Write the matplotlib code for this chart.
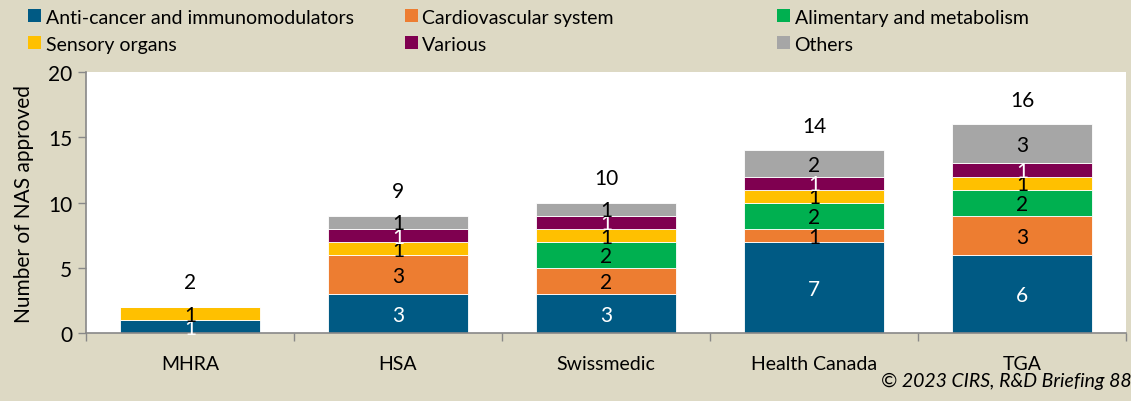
import numpy as np
import matplotlib
matplotlib.use('Agg')
import matplotlib.pyplot as plt
from matplotlib.patches import Patch

plt.rcParams['font.family'] = ['Lato', 'DejaVu Sans']

agencies = ['MHRA', 'HSA', 'Swissmedic', 'Health Canada', 'TGA']
categories = ['Anti-cancer and immunomodulators', 'Cardiovascular system',
              'Alimentary and metabolism', 'Sensory organs', 'Various', 'Others']
anticancer = [1, 3, 3, 7, 6]
cardio = [0, 3, 2, 1, 3]
alimentary = [0, 0, 2, 2, 2]
sensory = [1, 1, 1, 1, 1]
various = [0, 1, 1, 1, 1]
others = [0, 1, 1, 2, 3]
totals = [2, 9, 10, 14, 16]

colors = ['#005a84', '#ed7d31', '#00b050', '#ffc000', '#7f0050', '#a6a6a6']
text_colors = ['white', 'black', 'black', 'black', 'white', 'black']
bg = '#ddd9c4'

series = [anticancer, cardio, alimentary, sensory, various, others]

fig = plt.figure(figsize=(11.31, 4.02), dpi=100, facecolor=bg)
ax = fig.add_axes([0.076, 0.169, 0.9196, 0.649])
ax.set_facecolor('white')

x = np.arange(len(agencies))
bottom = np.zeros(len(agencies))
for vals, col, tcol in zip(series, colors, text_colors):
    vals = np.array(vals, dtype=float)
    ax.bar(x, vals, bottom=bottom, width=0.67, color=col,
           edgecolor='white', linewidth=0.6, zorder=2)
    for i, v in enumerate(vals):
        if v > 0:
            ax.text(x[i], bottom[i] + v / 2 - 0.1, f'{int(v)}', ha='center', va='center',
                    fontsize=15, color=tcol, zorder=3)
    bottom += vals

for i, t in enumerate(totals):
    ax.text(x[i], t + 1.9, str(t), ha='center', va='center', fontsize=15, color='black')

ax.set_xlim(-0.5, len(agencies) - 0.5)
ax.set_ylim(0, 20)
ax.set_yticks([0, 5, 10, 15, 20])
ax.set_xticks(x)
ax.set_xticklabels(agencies, fontsize=14)
ax.set_xticks(np.arange(-0.5, len(agencies)), minor=True)
ax.tick_params(axis='x', which='major', length=0, pad=16)
ax.tick_params(axis='x', which='minor', length=6, color='#888888', width=1)
ax.tick_params(axis='y', labelsize=15, length=6, color='#888888', width=1, pad=4)
for s in ['top', 'right']:
    ax.spines[s].set_visible(False)
for s in ['left', 'bottom']:
    ax.spines[s].set_color('#888888')
    ax.spines[s].set_linewidth(1.2)
ax.set_ylabel('Number of NAS approved', fontsize=15, labelpad=10)

# legend: three columns, two rows, row-major order
col_x = [0.013, 0.346, 0.675]
for c in range(3):
    handles = []
    for r in range(2):
        k = r * 3 + c
        handles.append(Patch(facecolor=colors[k], edgecolor='none', label=categories[k]))
    fig.legend(handles=handles, loc='upper left', bbox_to_anchor=(col_x[c], 1.01),
               frameon=False, fontsize=14, handlelength=0.65, handleheight=0.65,
               handletextpad=0.25, labelspacing=0.52, borderaxespad=0.3)

fig.text(0.779, 0.052, '\u00a9 2023 CIRS, R&D Briefing 88', fontsize=14,
         style='italic', ha='left', va='center')

fig.savefig('out.png', dpi=100, facecolor=bg)
